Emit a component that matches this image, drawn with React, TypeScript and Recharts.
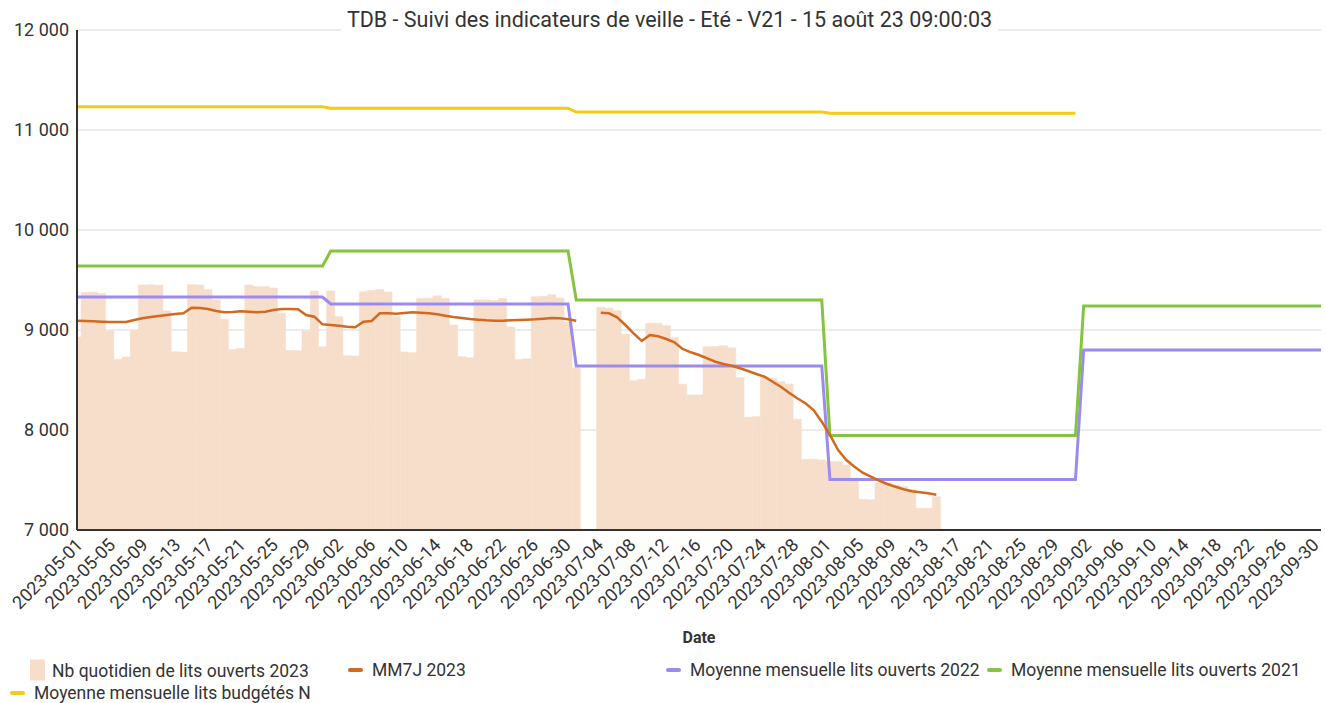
import React from 'react';
import { ComposedChart, Bar, Line, XAxis, YAxis, CartesianGrid, Legend } from 'recharts';

const TITLE = 'TDB - Suivi des indicateurs de veille - Eté - V21 - 15 août 23 09:00:03';

// axe des dates : 2023-05-01 -> 2023-09-30
const firstDay = Date.UTC(2023, 4, 1);
const nbDays = 153;
const dates: string[] = [];
for (let i = 0; i < nbDays; i++) {
  dates.push(new Date(firstDay + i * 86400000).toISOString().slice(0, 10));
}
const tickEvery = 4;

const yTicks = [7000, 8000, 9000, 10000, 11000, 12000];

// moyennes mensuelles (mai, juin, juillet, août, septembre)
const months = ['2023-05', '2023-06', '2023-07', '2023-08', '2023-09'];
const moy2022 = [9330, 9260, 8640, 7505, 8800];
const moy2021 = [9640, 9790, 9300, 7945, 9240];
const budgetN = [11232, 11218, 11180, 11167, null];

// nb quotidien de lits ouverts 2023 (01/05 -> 14/08)
const litsOuverts2023 = [
  8930, 9375, 9378, 9365, 8990, 8705, 8730, 8995, 9450, 9452, 9448, 9190, 8783, 8778,
  9452, 9450, 9405, 9300, 9107, 8805, 8815, 9450, 9433, 9433, 9420, 9167, 8795, 8792,
  8990, 9390, 8833, 9390, 9133, 8742, 8740, 9383, 9395, 9405, 9380, 9133, 8780, 8773,
  9317, 9320, 9342, 9317, 9050, 8733, 8722, 9300, 9300, 9295, 9315, 9030, 8705, 8712,
  9333, 9338, 9352, 9320, 9075, 8620, null, null, 9227, 9217, 9193, 8957, 8493, 8507,
  9067, 9067, 9043, 8923, 8457, 8350, 8350, 8833, 8835, 8843, 8823, 8523, 8127, 8133,
  8533, 8515, 8483, 8460, 8107, 7707, 7707, 7700, 7685, 7683, 7650, 7520, 7307, 7303,
  7473, 7475, 7450, 7433, 7407, 7217, 7217, 7333,
];

// moyenne mobile 7 jours 2023
const mm7j2023 = [
  9093, 9090, 9087, 9083, 9080, 9080, 9080, 9100, 9117, 9130, 9140, 9150, 9160, 9167,
  9223, 9220, 9210, 9190, 9177, 9180, 9187, 9183, 9177, 9183, 9200, 9210, 9210, 9207,
  9150, 9133, 9057, 9050, 9043, 9033, 9027, 9083, 9090, 9167, 9167, 9163, 9170, 9177,
  9173, 9167, 9157, 9143, 9130, 9120, 9110, 9103, 9097, 9093, 9093, 9097, 9100, 9103,
  9107, 9113, 9120, 9117, 9107, 9093, null, null, 9173, 9167, 9127, 9050, 8967, 8890,
  8950, 8937, 8910, 8877, 8810, 8777, 8750, 8717, 8683, 8660, 8643, 8617, 8590, 8560,
  8533, 8483, 8433, 8373, 8317, 8267, 8200, 8083, 7950, 7800, 7700, 7633, 7573, 7533,
  7493, 7460, 7433, 7407, 7387, 7377, 7367, 7353,
];

const data = dates.map((date, i) => {
  const m = months.indexOf(date.slice(0, 7));
  return {
    idx: i,
    date,
    nb: litsOuverts2023[i] ?? null,
    mm7j: mm7j2023[i] ?? null,
    m2022: moy2022[m],
    m2021: moy2021[m],
    budget: budgetN[m],
  };
});
const xTicks = data.filter((d) => d.idx % tickEvery === 0).map((d) => d.idx);

const W = 1325;
const H = 703;
const margin = { top: 30, right: 4, bottom: 0, left: 7 };
const yAxisW = 70;
const dayW = (W - margin.left - margin.right - yAxisW) / (nbDays - 1);

const BAR = '#F6DECB';
const ORANGE = '#D2691E';
const PURPLE = '#9C8BEF';
const GREEN = '#84C440';
const YELLOW = '#F4CB16';
const FONT = 'Roboto, "Noto Sans", sans-serif';

const fmt = (v: number) => String(v).replace(/\B(?=(\d{3})+(?!\d))/g, ' ');

function DateTick(props: any) {
  const { x, y, payload } = props;
  // labels drift slightly left along the axis, like the original
  const shift = 7 - 8 * (payload.value / (nbDays - 1));
  return (
    <g transform={`translate(${x + shift},${y + 8}) rotate(-45)`}>
      <text x={0} y={0} textAnchor="end" fill="#333" fontSize={18} fontFamily={FONT}>
        {dates[payload.value]}
      </text>
    </g>
  );
}

const legendItems = [
  { label: 'Nb quotidien de lits ouverts 2023', color: BAR, bar: true, left: 30, top: 15 },
  { label: 'MM7J 2023', color: ORANGE, bar: false, left: 348, top: 15 },
  { label: 'Moyenne mensuelle lits ouverts 2022', color: PURPLE, bar: false, left: 666, top: 15 },
  { label: 'Moyenne mensuelle lits ouverts 2021', color: GREEN, bar: false, left: 987, top: 15 },
  { label: 'Moyenne mensuelle lits budgétés N', color: YELLOW, bar: false, left: 10, top: 38 },
];

function ChartLegend() {
  return (
    <div style={{ position: 'relative', width: W, height: 48, fontFamily: FONT, fontSize: 17.5, color: '#333' }}>
      {legendItems.map((it) => (
        <div
          key={it.label}
          style={{ position: 'absolute', left: it.left, top: it.top, transform: 'translateY(-50%)', display: 'flex', alignItems: 'center', whiteSpace: 'nowrap' }}
        >
          {it.bar ? (
            <span style={{ display: 'inline-block', width: 15, height: 21, background: it.color, marginRight: 7 }} />
          ) : (
            <span style={{ display: 'inline-block', width: 15, height: 4, borderRadius: 2, background: it.color, marginRight: 9 }} />
          )}
          <span>{it.label}</span>
        </div>
      ))}
    </div>
  );
}

export default function App() {
  return (
    <div style={{ position: 'absolute', left: 0, top: 0, width: W, height: H, background: '#fff' }}>
      <ComposedChart width={W} height={H} data={data} margin={margin}>
        <CartesianGrid vertical={false} stroke="#D9D9D9" strokeWidth={1.2} />
        <XAxis
          dataKey="idx"
          type="number"
          domain={[0, nbDays - 1]}
          allowDataOverflow
          ticks={xTicks}
          interval={0}
          tick={<DateTick />}
          tickLine={false}
          axisLine={{ stroke: '#333', strokeWidth: 2 }}
          height={125}
          label={{ value: 'Date', position: 'insideBottom', offset: 12, style: { fontWeight: 700, fill: '#333', fontSize: 16, fontFamily: FONT } }}
        />
        <YAxis
          domain={[7000, 12000]}
          ticks={yTicks}
          interval={0}
          width={yAxisW}
          tickLine={false}
          axisLine={{ stroke: '#333', strokeWidth: 2 }}
          tickFormatter={fmt}
          tick={{ fill: '#333', fontSize: 18, fontFamily: FONT }}
        />
        <Bar
          dataKey="nb"
          name="Nb quotidien de lits ouverts 2023"
          fill={BAR}
          stroke={BAR}
          strokeWidth={0.6}
          barSize={dayW - 0.05}
          isAnimationActive={false}
        />
        <Line type="linear" dataKey="m2022" name="Moyenne mensuelle lits ouverts 2022" stroke={PURPLE} strokeWidth={3} dot={false} isAnimationActive={false} />
        <Line type="linear" dataKey="m2021" name="Moyenne mensuelle lits ouverts 2021" stroke={GREEN} strokeWidth={3} dot={false} isAnimationActive={false} />
        <Line type="linear" dataKey="budget" name="Moyenne mensuelle lits budgétés N" stroke={YELLOW} strokeWidth={3} dot={false} isAnimationActive={false} />
        <Line type="linear" dataKey="mm7j" name="MM7J 2023" stroke={ORANGE} strokeWidth={2.5} dot={false} isAnimationActive={false} />
        <Legend
          verticalAlign="bottom"
          content={<ChartLegend />}
          wrapperStyle={{ left: 0, bottom: 0, width: W, height: 48 }}
        />
      </ComposedChart>
      <div style={{ position: 'absolute', left: 0, top: 7, width: W, textAlign: 'center', pointerEvents: 'none' }}>
        <span style={{ background: '#fff', padding: '0 6px', fontFamily: FONT, fontSize: 21.5, color: '#333', marginLeft: 14 }}>
          {TITLE}
        </span>
      </div>
    </div>
  );
}
